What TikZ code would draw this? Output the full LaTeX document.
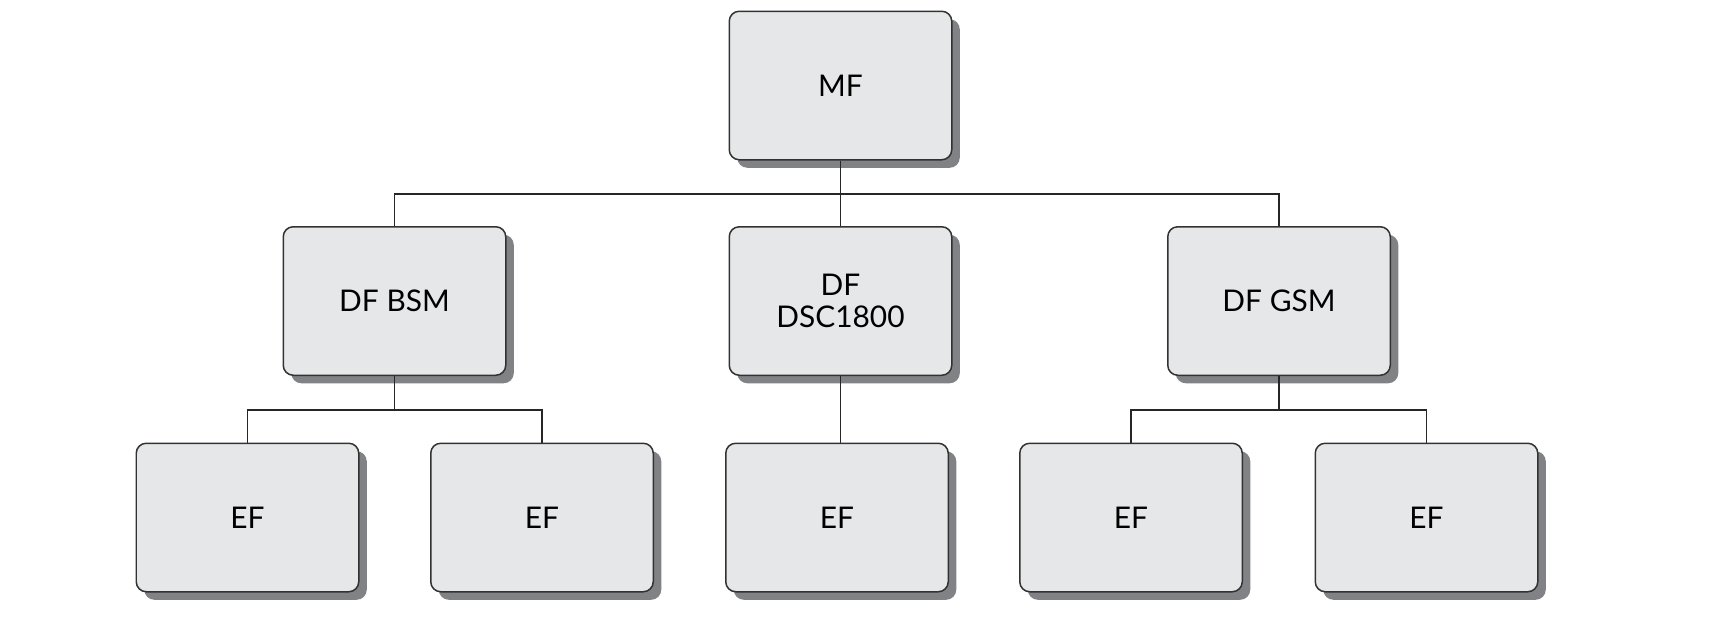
\documentclass[tikz,border=0pt]{standalone}
\usepackage{fontspec}
\setmainfont{Lato}
\usepackage{tikz}
\usetikzlibrary{shadows, calc}

\definecolor{boxfill}{RGB}{230,231,232}
\definecolor{boxshade}{RGB}{128,130,133}
\definecolor{boxline}{RGB}{50,50,50}

\begin{document}
\begin{tikzpicture}[
        unit/.style={draw=boxline, line width=0.85pt, fill=boxfill, rounded corners=0.2cm,
            minimum width=4.45cm, minimum height=2.97cm, align=center,
            font=\fontsize{17}{18}\selectfont,
            drop shadow={shadow xshift=0.16cm, shadow yshift=-0.16cm, fill=boxshade, opacity=1}},
        link/.style={draw=black!85, line width=0.6pt}
    ]
    \useasboundingbox (0,0) rectangle (34.72,-12.32);

    % Top and middle level
    \node[unit] (mf) at (16.81,-1.71) {MF};
    \node[unit] (bsm) at (7.89,-6.02) {DF BSM};
    \node[unit] (dsc) at (16.81,-6.02) {DF\\DSC1800};
    \node[unit] (gsm) at (25.58,-6.02) {DF GSM};

    % Bottom level
    \node[unit] (ef1) at (4.95,-10.35) {EF};
    \node[unit] (ef2) at (10.84,-10.35) {EF};
    \node[unit] (ef3) at (16.74,-10.35) {EF};
    \node[unit] (ef4) at (22.62,-10.35) {EF};
    \node[unit] (ef5) at (28.53,-10.35) {EF};

    % Bus lines
    \coordinate (topbus) at (0,-3.88);
    \coordinate (botbus) at (0,-8.2);

    % Connectors
    \draw[link] (mf.south) -- (dsc.north);
    \draw[link] (bsm.north) -- (bsm.north |- topbus) -| (gsm.north);
    \draw[link] (bsm.south) -- (bsm.south |- botbus);
    \draw[link] (ef1.north) -- (ef1.north |- botbus) -| (ef2.north);
    \draw[link] (dsc.south) -- (dsc.south |- ef3.north);
    \draw[link] (gsm.south) -- (gsm.south |- botbus);
    \draw[link] (ef4.north) -- (ef4.north |- botbus) -| (ef5.north);

\end{tikzpicture}
\end{document}
